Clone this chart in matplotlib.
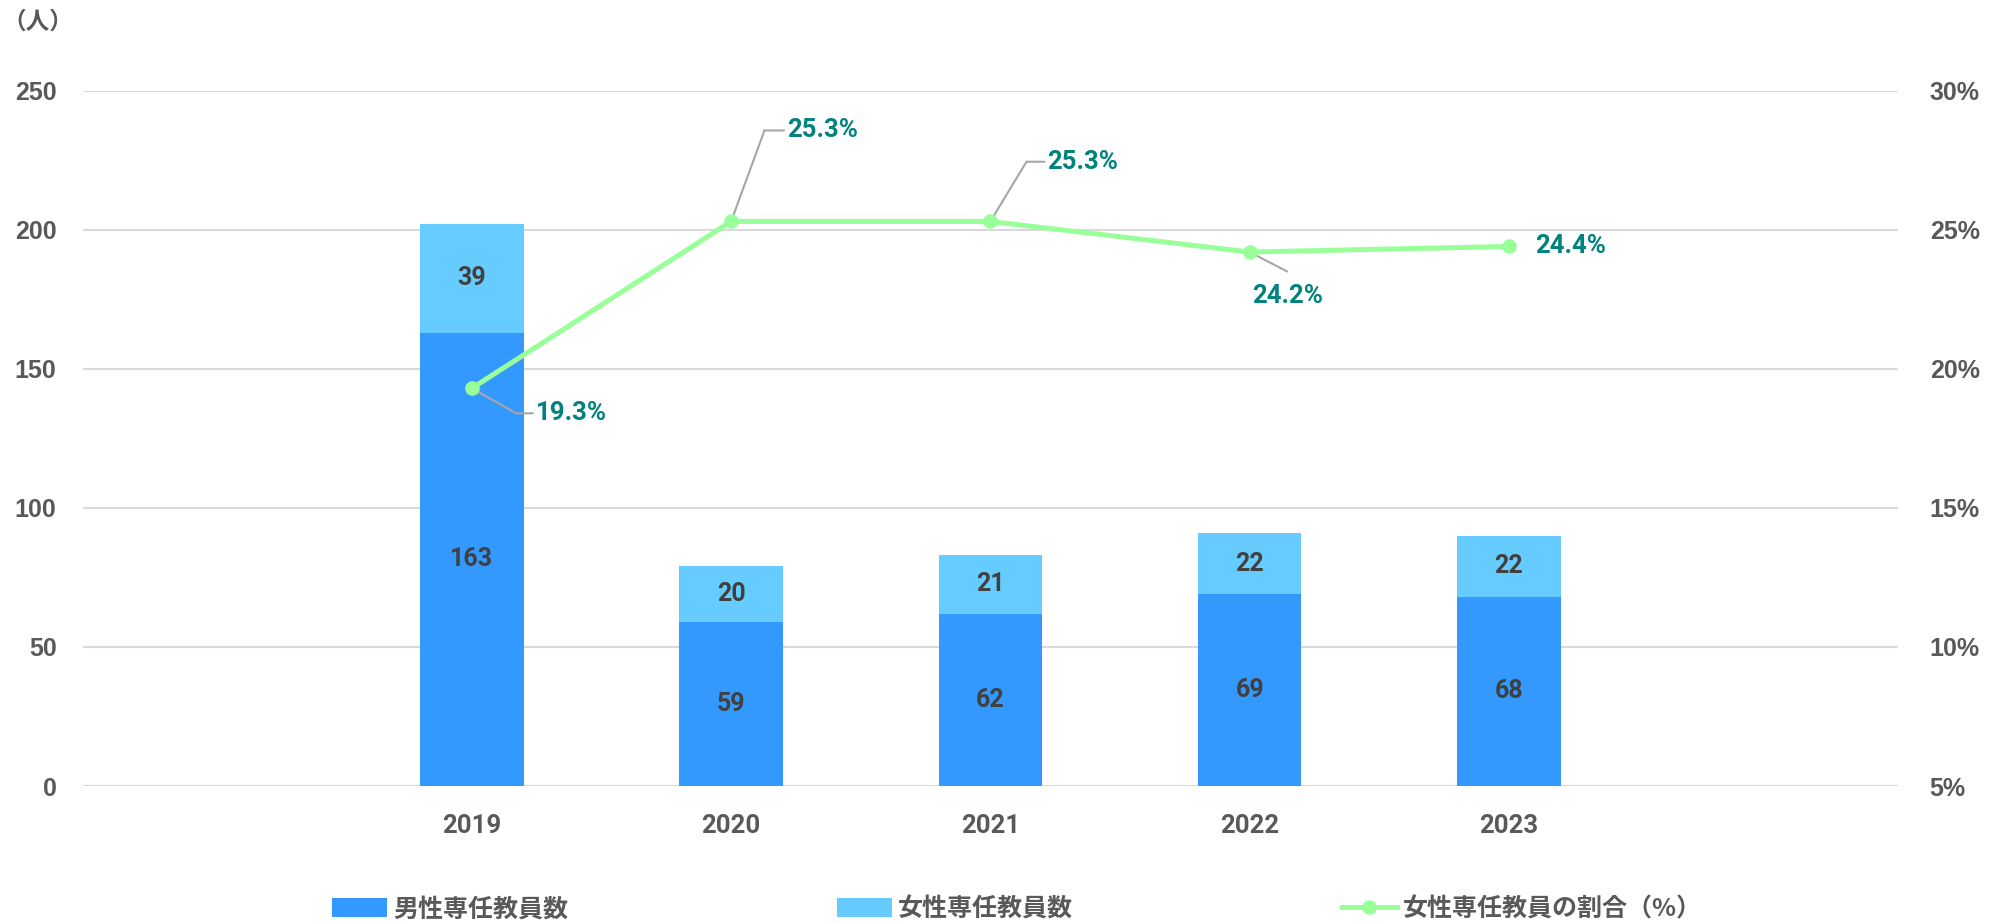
import matplotlib
matplotlib.use("Agg")
import matplotlib.pyplot as plt
import matplotlib.transforms as mtransforms
from matplotlib.lines import Line2D
from matplotlib.patches import Patch
import numpy as np

# ---- data ----
years = ["2019", "2020", "2021", "2022", "2023"]
male_staff = [163, 59, 62, 69, 68]
female_staff = [39, 20, 21, 22, 22]
female_ratio = [19.3, 25.3, 25.3, 24.2, 24.4]
left_ticks = [0, 50, 100, 150, 200, 250]
right_ticks = [5, 10, 15, 20, 25, 30]
series_names = ["男性専任教員数", "女性専任教員数", "女性専任教員の割合（%）"]
unit_label = "（人）"

# ---- styles ----
C_MALE = "#3399FF"
C_FEMALE = "#66CCFF"
C_LINE = "#99FF99"
C_PCT = "#00827F"
C_TICK = "#595959"
C_VAL = "#404040"
C_GRID = "#D9D9D9"
C_LEAD = "#A6A6A6"
NUM_FONT = ["Liberation Sans", "DejaVu Sans"]
LBL_FONT = ["Roboto", "DejaVu Sans"]
CJK_FONT = ["Noto Sans CJK JP", "DejaVu Sans"]

# label layout (offsets in points from the marker): corner of leader, text anchor
pct_layout = [
    dict(corner=(32, -18), text=(46, -18), ha="left", va="center"),
    dict(corner=(24, 65.5), text=(40, 65.5), ha="left", va="center"),
    dict(corner=(26, 43), text=(41, 43), ha="left", va="center"),
    dict(corner=(27, -14), text=(27, -32), ha="center", va="center", straight=True),
    dict(corner=None, text=(19, 0), ha="left", va="center"),
]

fig = plt.figure(figsize=(20.04, 9.22), dpi=100)
ax = fig.add_axes([0.0414, 0.1475, 0.9056, 0.7541])
ax2 = ax.twinx()

x = np.arange(len(years))
w = 0.4
ax.bar(x, male_staff, w, color=C_MALE, zorder=2)
ax.bar(x, female_staff, w, bottom=male_staff, color=C_FEMALE, zorder=2)

for xi, m, f in zip(x, male_staff, female_staff):
    ax.text(xi, m / 2, str(m), ha="center", va="center", fontsize=18,
            fontweight="bold", color=C_VAL, family=LBL_FONT, zorder=3)
    ax.text(xi, m + f / 2, str(f), ha="center", va="center", fontsize=18,
            fontweight="bold", color=C_VAL, family=LBL_FONT, zorder=3)

ax.set_xlim(-1.5, len(years) + 0.5)
ax.set_ylim(0, 250)
ax.set_yticks(left_ticks)
ax.set_yticklabels([str(t) for t in left_ticks])
ax.set_xticks(x)
ax.set_xticklabels(years)
ax.grid(axis="y", color=C_GRID, linewidth=1.5, zorder=0)
ax.set_axisbelow(True)
for s in ax.spines.values():
    s.set_visible(False)
for s in ax2.spines.values():
    s.set_visible(False)
ax.tick_params(axis="both", length=0)
ax.tick_params(axis="y", pad=19)
ax.tick_params(axis="x", pad=20)
for lab in ax.get_yticklabels():
    lab.set_fontsize(18)
    lab.set_fontweight("bold")
    lab.set_color(C_TICK)
    lab.set_family(NUM_FONT)
for lab in ax.get_xticklabels():
    lab.set_fontsize(18.5)
    lab.set_fontweight("bold")
    lab.set_color(C_TICK)
    lab.set_family(LBL_FONT)

ax2.plot(x, female_ratio, color=C_LINE, linewidth=3.6, marker="o",
         markersize=9.5, zorder=4)
ax2.set_ylim(5, 30)
ax2.set_yticks(right_ticks)
ax2.set_yticklabels([f"{t}%" for t in right_ticks])
ax2.tick_params(axis="y", length=0, pad=23)
for lab in ax2.get_yticklabels():
    lab.set_fontsize(18)
    lab.set_fontweight("bold")
    lab.set_color(C_TICK)
    lab.set_family(NUM_FONT)
ax.set_zorder(1)
ax2.set_zorder(2)
ax.patch.set_visible(False)

for xi, r, lay in zip(x, female_ratio, pct_layout):
    if lay["corner"] is not None:
        cx, cy = lay["corner"]
        ax2.annotate("", xy=(xi, r), xycoords="data",
                     xytext=(cx, cy), textcoords="offset points",
                     arrowprops=dict(arrowstyle="-", color=C_LEAD, lw=1.5,
                                     shrinkA=0, shrinkB=0), zorder=3)
        if not lay.get("straight"):
            tx, ty = lay["text"]
            tr = mtransforms.offset_copy(ax2.transData, fig=fig, x=cx, y=cy, units="points")
            ax2.annotate("", xy=(xi, r), xycoords=tr,
                         xytext=(tx - cx - 2, 0), textcoords="offset points",
                         arrowprops=dict(arrowstyle="-", color=C_LEAD, lw=1.5,
                                         shrinkA=0, shrinkB=0), zorder=3)
    ax2.annotate(f"{r:.1f}%", xy=(xi, r), xytext=lay["text"], textcoords="offset points",
                 ha=lay["ha"], va=lay["va"], fontsize=18.5, fontweight="bold",
                 color=C_PCT, family=LBL_FONT, zorder=5)

fig.text(38 / 2004, 1 - 22 / 922, unit_label, ha="center", va="center", fontsize=17,
         fontweight="bold", color=C_TICK, family=CJK_FONT)

handles = [
    Patch(facecolor=C_MALE, edgecolor="none"),
    Patch(facecolor=C_FEMALE, edgecolor="none"),
    Line2D([], [], color=C_LINE, linewidth=3.6, marker="o", markersize=9.5),
]
leg = fig.legend(handles, series_names, loc="center", ncol=3,
                 bbox_to_anchor=(1017 / 2004, 1 - 909 / 922), frameon=False,
                 prop=dict(family=CJK_FONT, size=18, weight="bold"),
                 handlelength=2.2, handleheight=0.75, handletextpad=0.25,
                 columnspacing=10.75)
for t in leg.get_texts():
    t.set_color(C_TICK)

fig.savefig("out.png", dpi=100)
